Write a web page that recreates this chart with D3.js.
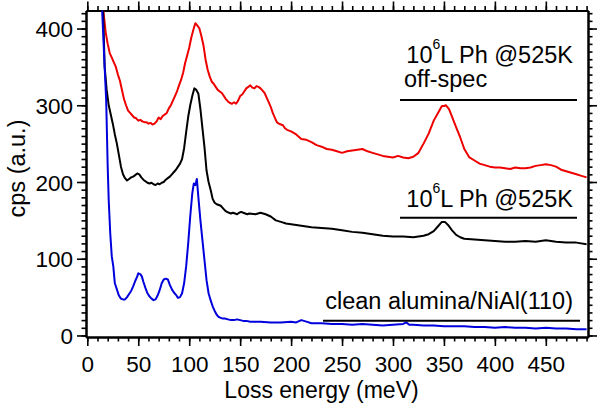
<!DOCTYPE html>
<html><head><meta charset="utf-8">
<script src="https://cdn.jsdelivr.net/npm/d3@7"></script>
<style>body{margin:0;background:#fff}svg{display:block}text{font-family:"Liberation Sans",Arial,sans-serif;fill:#000}</style>
</head><body><svg id="c" width="600" height="405"></svg>
<script>
const xTicks = [0,50,100,150,200,250,300,350,400,450];
const yTicks = [0,100,200,300,400];
const legendLabels = ["off-spec","10^6L Ph @525K","clean alumina/NiAl(110)"];
const xTitle = "Loss energy (meV)";
const yTitle = "cps (a.u.)";

// red: off-specular, [meV, cps]
const redData = [[14,440],[16,420],[18,395],[20,380],[22,368],[24,362],[26,356],[28,350],[30,340],[32,332],[34,320],[36,308],[38,300],[40,293],[42,290],[44,287],[46,284],[48,283],[50,280],[52,281],[54,279],[56,278],[58,278],[60,276],[62,277],[64,275],[66,276],[68,279],[70,284],[72,282],[74,286],[76,288],[78,290],[80,296],[82,300],[84,306],[86,312],[88,318],[90,326],[92,333],[94,342],[96,355],[98,365],[100,375],[102,388],[104,398],[106,407],[108,404],[110,400],[112,390],[114,378],[116,360],[118,347],[120,338],[122,331],[124,328],[126,324],[128,320],[130,318],[132,316],[134,312],[136,308],[138,305],[140,303],[142,302],[144,304],[146,302],[148,306],[150,312],[152,314],[154,318],[156,322],[158,324],[160,326],[162,323],[164,322],[166,325],[168,324],[170,322],[172,319],[174,316],[176,310],[178,304],[180,298],[182,290],[184,284],[186,278],[188,276],[190,275],[192,274],[194,270],[196,268],[198,267],[200,266],[205,262],[210,256],[215,255],[220,252],[225,248],[230,246],[235,243],[240,242],[245,240],[250,238],[255,240],[260,241],[265,242],[270,243],[275,240],[280,238],[285,236],[290,234],[295,233],[300,232],[305,234],[310,232],[315,231],[320,233],[325,238],[330,250],[335,263],[340,280],[345,292],[348,299],[350,299],[352,300],[355,295],[358,285],[360,278],[363,268],[366,258],[370,243],[375,232],[380,228],[385,224],[390,222],[395,220],[400,219],[405,219],[410,218],[415,217],[420,219],[425,218],[430,218],[435,219],[440,221],[445,222],[450,223],[455,222],[460,220],[465,216],[470,214],[475,212],[480,210],[485,208],[490,206]];
// black: specular
const blackData = [[14,440],[15.5,423],[17,350],[19,320],[21,300],[23,288],[25,276],[27,262],[29,250],[31,235],[33,220],[35,210],[37,205],[39,202],[41,204],[43,206],[45,207],[47,209],[49,211],[51,210],[53,206],[55,203],[57,201],[59,199],[61,198],[63,199],[65,197],[67,196],[69,198],[71,197],[73,199],[75,200],[77,203],[79,205],[81,207],[83,210],[85,213],[87,216],[89,220],[91,224],[93,230],[95,244],[97,265],[99,285],[101,300],[103,312],[105,322],[107,320],[109,315],[111,295],[113,270],[115,245],[117,215],[119,200],[121,190],[123,178],[125,173],[127,171],[129,170],[131,169],[133,166],[135,163],[137,161],[139,160],[141,159],[143,160],[145,159],[147,158],[149,160],[151,161],[153,160],[155,159],[157,158],[159,159],[165,158],[170,160],[175,158],[180,155],[185,150],[190,148],[195,146],[200,145],[210,143],[220,141],[230,140],[240,139],[250,137],[260,135],[270,134],[280,132],[290,130],[300,129],[310,129],[320,128],[330,130],[335,132],[340,136],[344,142],[348,148],[351,148],[354,144],[358,137],[362,131],[366,128],[370,126],[380,125],[390,124],[400,123],[410,122],[420,122],[430,123],[440,122],[450,124],[460,122],[470,121],[480,121],[490,119]];
// blue: clean alumina
const blueData = [[14,440],[17,350],[18.5,307],[20,220],[21,176],[22.5,133],[24,103],[25.5,90],[27,68],[29,60],[31,52],[33,48],[35,47],[37,47],[39,50],[41,54],[43,58],[45,64],[47,71],[49,77],[50,81],[52,80],[53.5,77],[55,70],[57,62],[59,55],[61,51],[63,48],[65,46],[67,47],[69,52],[71,59],[73,68],[75,73],[77,74],[79,73],[81,66],[83,60],[85,56],[87,53],[89,49],[91,50],[93,55],[95,68],[97,90],[99,120],[101,155],[103,185],[104.5,198],[106,196],[107.5,204],[109,180],[111,150],[113,124],[115,98],[117,72],[119,55],[121,46],[123,38],[125,32],[127,27],[129,24],[131,23],[133,22],[135,22],[138,21],[141,20],[144,20],[147,21],[150,20],[153,19],[156,19],[160,18],[170,18],[180,17],[190,17],[200,18],[205,17],[210,20],[215,18],[220,16],[230,16],[240,15],[250,15],[260,14],[270,15],[280,14],[290,13],[300,14],[310,15],[313,17],[316,14],[320,14],[330,13],[340,13],[350,12],[360,12],[370,12],[380,11],[390,11],[400,10],[410,11],[420,10],[430,10],[440,9],[450,10],[460,9],[470,9],[480,8],[490,8]];

const series = [
  {data: redData, color: "#ee0000"},
  {data: blackData, color: "#000000"},
  {data: blueData, color: "#0000dd"}
];

const L = 86, R = 588, T = 10.5, B = 337;
const x = d3.scaleLinear().domain([-1.3, 491.4]).range([L, R]);
const y = d3.scaleLinear().domain([-2, 423.5]).range([B, T]);
const svg = d3.select("#c");

svg.append("defs").append("clipPath").attr("id","clip")
  .append("rect").attr("x",L).attr("y",T).attr("width",R-L).attr("height",B-T);

const minorX = d3.range(0, 491, 10);
const minorY = d3.range(0, 421, 10);

function axisGroup(axisFn, transform, majors, minors, labels) {
  const g = svg.append("g").attr("transform", transform);
  g.call(axisFn.tickValues(minors).tickSize(4.5).tickFormat("").tickSizeOuter(0));
  const g2 = svg.append("g").attr("transform", transform);
  g2.call(axisFn.tickValues(majors).tickSize(9).tickFormat(labels ? d3.format("d") : "").tickSizeOuter(0));
  [g, g2].forEach(gg => {
    gg.selectAll("line").attr("stroke","#000").attr("stroke-width",1.6);
    gg.select(".domain").attr("stroke","#000").attr("stroke-width",2);
  });
  g2.selectAll("text").attr("font-size",22.5).attr("font-family",'"Liberation Sans",Arial,sans-serif').attr("fill","#000");
  return g2;
}
const xb = axisGroup(d3.axisBottom(x), `translate(0,${B})`, xTicks, minorX, true);
xb.selectAll("text").attr("dy",null).attr("y",34.5);
axisGroup(d3.axisTop(x), `translate(0,${T})`, xTicks, minorX, false);
const yl = axisGroup(d3.axisLeft(y), `translate(${L},0)`, yTicks, minorY, true);
yl.selectAll("text").attr("x",-13).attr("dy","0.36em");
axisGroup(d3.axisRight(y), `translate(${R},0)`, yTicks, minorY, false);

const line = d3.line().x(d => x(d[0])).y(d => y(d[1]));
const plot = svg.append("g").attr("clip-path","url(#clip)");
series.forEach(s => {
  plot.append("path").datum(s.data).attr("d", line)
    .attr("fill","none").attr("stroke", s.color).attr("stroke-width",2).attr("stroke-linejoin","round");
});

// axis titles
svg.append("text").attr("x", 321.5).attr("y", 397.5).attr("text-anchor","middle").attr("font-size",23).text(xTitle);
svg.append("text").attr("transform","translate(25,168.5) rotate(-90)").attr("text-anchor","middle").attr("font-size",23.5).text(yTitle);

// annotations
function labelExp(yBase) {
  const t = svg.append("text").attr("x", 573).attr("y", yBase).attr("text-anchor","end").attr("font-size",23.5);
  t.append("tspan").text("10");
  t.append("tspan").attr("font-size",14).attr("dy",-14).text("6");
  t.append("tspan").attr("dy",14).text("L Ph @525K");
}
labelExp(62.5);
svg.append("text").attr("x",404).attr("y",86.5).attr("font-size",23.5).text(legendLabels[0]);
svg.append("line").attr("x1",400).attr("x2",577).attr("y1",100).attr("y2",100).attr("stroke","#000").attr("stroke-width",2);
labelExp(206.5);
svg.append("line").attr("x1",400).attr("x2",577).attr("y1",217.7).attr("y2",217.7).attr("stroke","#000").attr("stroke-width",2);
svg.append("text").attr("x",573).attr("y",308.5).attr("text-anchor","end").attr("font-size",23.5).text(legendLabels[2]);
svg.append("line").attr("x1",323).attr("x2",580).attr("y1",320.7).attr("y2",320.7).attr("stroke","#000").attr("stroke-width",2);
</script></body></html>
